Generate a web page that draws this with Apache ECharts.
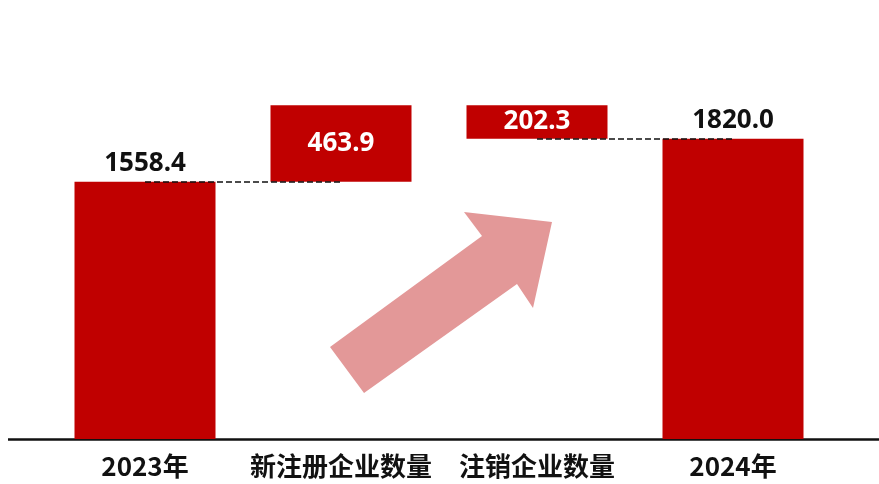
<!DOCTYPE html>
<html>
<head>
<meta charset="utf-8">
<script src="https://cdn.jsdelivr.net/npm/echarts@6/dist/echarts.min.js"></script>
<style>
  html, body { margin: 0; padding: 0; background: #ffffff; }
  #chart { width: 879px; height: 484px; }
</style>
</head>
<body>
<div id="chart"></div>
<script>
// Enterprise count bridge: 2023 total, new registrations, cancellations, 2024 total
const categories = ['2023年', '新注册企业数量', '注销企业数量', '2024年'];
const startTotal = 1558.4;
const newlyRegistered = 463.9;
const cancelled = 202.3;
const endTotal = 1820.0;

// Visible bar heights and the invisible offsets that make the middle bars float
const barValues = [startTotal, newlyRegistered, cancelled, endTotal];
const floatBase = [0, startTotal, startTotal + newlyRegistered - cancelled, 0];

const RED = '#C00000';
const CJK_FONT = '"Noto Sans CJK SC", "Noto Sans", sans-serif';
const NUM_FONT = '"Noto Sans", "Noto Sans CJK SC", sans-serif';

const chart = echarts.init(document.getElementById('chart'), null, { renderer: 'canvas' });

const valueLabel = (isInside) => ({
  show: true,
  position: isInside ? 'inside' : 'top',
  distance: 5,
  color: isInside ? '#ffffff' : '#111111',
  fontFamily: NUM_FONT,
  fontWeight: 'bold',
  fontSize: 26,
  formatter: (p) => p.value.toFixed(1)
});

chart.setOption({
  animation: false,
  backgroundColor: '#ffffff',
  grid: { left: 47, right: 48, top: 43, bottom: 45 },
  xAxis: {
    type: 'category',
    data: categories,
    axisLine: { show: false },
    axisTick: { show: false },
    axisLabel: {
      interval: 0,
      margin: 14,
      color: '#111111',
      fontFamily: CJK_FONT,
      fontWeight: 'bold',
      fontSize: 26
    }
  },
  yAxis: {
    type: 'value',
    min: 0,
    max: 2400,
    show: false,
    splitLine: { show: false }
  },
  graphic: [
    {
      type: 'line',
      z: 0,
      shape: { x1: 8, y1: 439.5, x2: 879, y2: 439.5 },
      style: { stroke: '#111111', lineWidth: 2.5 }
    },
    {
      type: 'polygon',
      z: 5,
      shape: {
        points: [[330, 347], [482, 236], [464, 212], [552, 222], [533, 308], [517, 284], [364, 393]]
      },
      style: { fill: '#E39898' }
    }
  ],
  series: [
    {
      type: 'bar',
      stack: 'bridge',
      data: floatBase,
      barWidth: 141,
      itemStyle: { color: 'transparent' },
      silent: true,
      emphasis: { disabled: true }
    },
    {
      type: 'bar',
      stack: 'bridge',
      barWidth: 141,
      z: 3,
      data: barValues.map((v, i) => ({
        value: v,
        label: valueLabel(i === 1 || i === 2)
      })),
      itemStyle: { color: RED },
      emphasis: { disabled: true },
      markLine: {
        silent: true,
        symbol: 'none',
        z: 4,
        label: { show: false },
        lineStyle: { color: '#111111', type: [6, 3], width: 1.5 },
        data: [
          [{ coord: [categories[0], startTotal] }, { coord: [categories[1], startTotal] }],
          [{ coord: [categories[2], endTotal] }, { coord: [categories[3], endTotal] }]
        ]
      }
    }
  ]
});
</script>
</body>
</html>
